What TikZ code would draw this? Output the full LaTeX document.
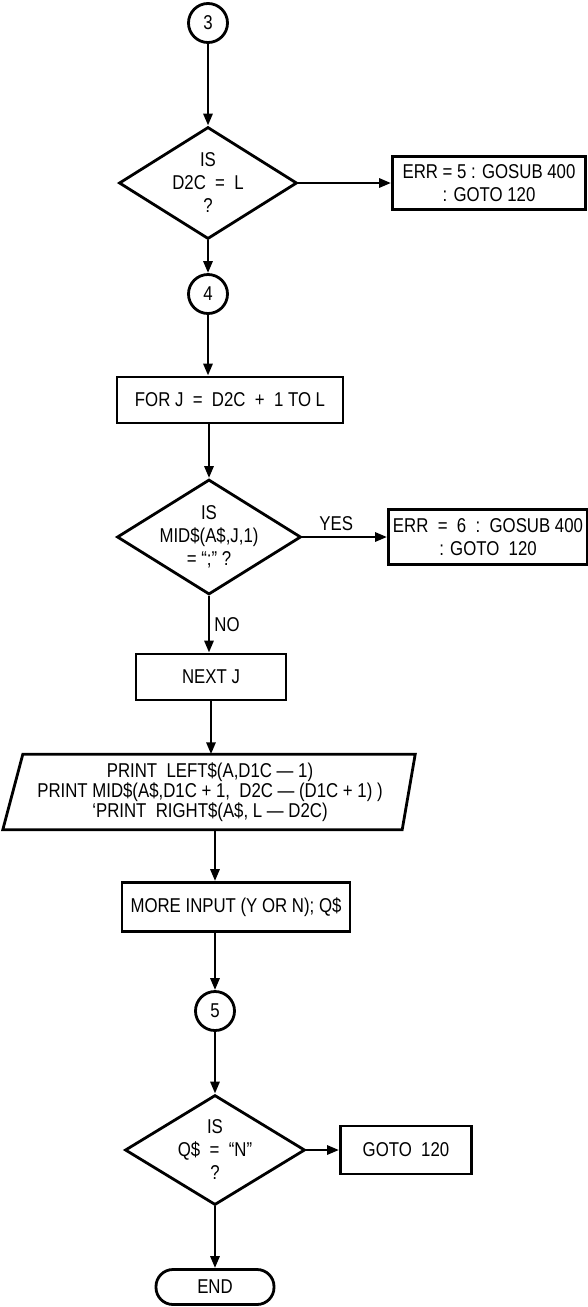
\documentclass[tikz,border=0pt]{standalone}
\usepackage{fontspec}
\setmainfont{Liberation Sans}[FakeStretch=0.84]
\usetikzlibrary{arrows.meta, positioning, calc, shapes.geometric}

\begin{document}
\begin{tikzpicture}[
    x=1pt, y=-1pt,
    every node/.style={font=\fontsize{20}{23}\selectfont},
    box/.style={rectangle, draw=black, line width=2.8pt, minimum height=46pt,
                inner sep=2pt, align=center},
    decision/.style={diamond, draw=black, line width=2.8pt, inner sep=0pt},
    connector/.style={circle, draw=black, line width=2.8pt, minimum size=39pt, inner sep=0pt},
    terminal/.style={rectangle, rounded corners=17pt, draw=black, line width=2.8pt,
                minimum width=118pt, minimum height=35pt},
    arrow/.style={-{Triangle[length=12pt, width=9pt]}, line width=2.8pt},
    tag/.style={inner sep=2pt},
]
\useasboundingbox (0,0) rectangle (588,1307);

% connectors, decisions and steps
\node[connector] (c3) at (208,23) {3};
\node[decision, minimum width=178pt, minimum height=112pt,
      label={[align=center]center:{IS\\D2C\ \ =\ \ L\\?}}] (d1) at (208,183) {};
\node[box, minimum width=193pt, minimum height=53pt] (e5) at (489,183)
     {ERR = 5 : GOSUB 400\\: GOTO 120};
\node[connector] (c4) at (208,294) {4};
\node[box, minimum width=226pt] (forbox) at (230,400) {FOR J\ \ =\ \ D2C\ \ +\ \ 1 TO L};
\node[decision, minimum width=184pt, minimum height=115pt,
      label={[align=center]center:{IS\\MID\$(A\$,J,1)\\= ``;'' ?}}] (d2) at (209,537) {};
\node[box, minimum width=199pt, minimum height=55pt] (e6) at (488,537)
     {ERR\ \ =\ \ 6\ \ :\ \ GOSUB 400\\: GOTO\ \ 120};
\node[box, minimum width=150pt] (nextj) at (211,677) {NEXT J};
\node[minimum width=396pt, minimum height=75pt, align=center, inner sep=0pt,
      font=\fontsize{20}{20}\selectfont] (print) at (210,792)
     {PRINT\ \ LEFT\$(A,D1C --- 1)\\
      PRINT MID\$(A\$,D1C + 1,\ \ D2C --- (D1C + 1) )\\
      `{}PRINT\ \ RIGHT\$(A\$, L --- D2C)};
\draw[line width=2.8pt] ([xshift=11pt]print.north west) -- ([xshift=7pt]print.north east)
    -- ([xshift=-6pt]print.south east) -- ([xshift=-9pt]print.south west) -- cycle;
\node[box, minimum width=228pt, minimum height=49pt] (more) at (236,907) {MORE INPUT (Y OR N); Q\$};
\node[connector] (c5) at (215,1011) {5};
\node[decision, minimum width=180pt, minimum height=110pt,
      label={[align=center]center:{IS\\Q\$\ \ =\ \ ``N''\\?}}] (d3) at (215,1150) {};
\node[box, minimum width=131pt, minimum height=48pt] (g120) at (406,1150) {GOTO\ \ 120};
\node[terminal] (end) at (215,1287) {END};

% flow
\draw[arrow] (c3) -- (d1);
\draw[arrow] (d1) -- (e5);
\draw[arrow] (d1) -- (c4);
\draw[arrow] (c4) -- (c4 |- forbox.north);
\draw[arrow] (d2 |- forbox.south) -- (d2);
\draw[arrow] (d2) -- node[tag, above=3pt, pos=0.4] {YES} (e6);
\draw[arrow] (d2.south) -- node[tag, right=2pt, pos=0.5] {NO} (d2.south |- nextj.north);
\draw[arrow] (nextj) -- (nextj |- print.north);
\draw[arrow] (c5 |- print.south) -- (c5 |- more.north);
\draw[arrow] (c5 |- more.south) -- (c5);
\draw[arrow] (c5) -- (d3);
\draw[arrow] (d3) -- (g120);
\draw[arrow] (d3) -- (end);
\end{tikzpicture}
\end{document}
